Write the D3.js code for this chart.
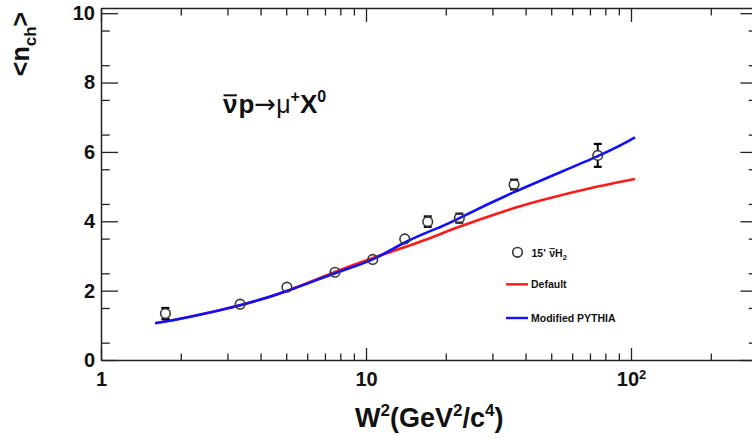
<!DOCTYPE html>
<html>
<head>
<meta charset="utf-8">
<script src="https://cdn.jsdelivr.net/npm/d3@7"></script>
<style>
  html, body { margin: 0; padding: 0; background: #fff; }
  svg { display: block; }
  text { font-family: "Liberation Sans", Arial, Helvetica, sans-serif; fill: #111; }
</style>
</head>
<body>
<svg id="chart" width="752" height="439"></svg>
<script>
// ---- data ----
const dataW2   = [1.75, 3.35, 5.03, 7.64, 10.6, 14.0, 17.1, 22.5, 36.2, 74.9];
const dataNch  = [1.34, 1.61, 2.10, 2.53, 2.90, 3.49, 3.99, 4.09, 5.06, 5.90];
const dataErr  = [0.16, 0, 0, 0, 0, 0, 0.15, 0.13, 0.14, 0.33];

const defaultW2  = [1.6, 2.17, 3.35, 5.03, 7.64, 10.5, 16.0, 22.5, 36.2, 50.0, 74.9, 103.5];
const defaultNch = [1.06, 1.25, 1.58, 1.99, 2.54, 2.93, 3.41, 3.84, 4.38, 4.68, 5.00, 5.22];

const modW2  = [1.6, 2.17, 3.35, 5.03, 7.64, 10.65, 14.2, 19.0, 22.5, 36.2, 74.9, 103.5];
const modNch = [1.06, 1.25, 1.58, 1.99, 2.50, 2.91, 3.41, 3.83, 4.09, 4.84, 5.88, 6.42];

const xMajorTicks = [1, 10, 100];
const yMajorTicks = [0, 2, 4, 6, 8, 10];

const legendLabels = ["15'", "Default", "Modified PYTHIA"];

// ---- layout ----
const svg = d3.select("#chart");
const xLeft = 101, decadePx = 265;
const xMax = 300;
const x = d3.scaleLog().domain([1, xMax]).range([xLeft, xLeft + decadePx * Math.log10(xMax)]);
const y = d3.scaleLinear().domain([0, 10.15]).range([360, 8]);
const [x0, x1] = x.range();
const [y0, y1] = y.range();

const xMinorTicks = [];
[1, 10, 100].forEach(d => { for (let m = 2; m <= 9; m++) { const v = d * m; if (v <= xMax) xMinorTicks.push(v); } });
const yMinorTicks = d3.range(0.5, 10.01, 1).filter(v => v <= 10.15);

const AX = "#222";
function styleAxis(g, w) {
  g.selectAll("path.domain").attr("stroke", AX).attr("stroke-width", w || 1.5);
  g.selectAll(".tick line").attr("stroke", AX).attr("stroke-width", 1.3);
}

// bottom axis (major with labels)
const gb = svg.append("g").attr("transform", `translate(0,${y0})`)
  .call(d3.axisBottom(x).tickValues(xMajorTicks).tickSize(-12).tickSizeOuter(0).tickPadding(12)
    .tickFormat(d => d === 100 ? "10" : String(d)));
styleAxis(gb);
gb.selectAll(".tick text").attr("font-size", 20).attr("font-weight", "bold")
  .style("font-family", '"Liberation Sans", Arial, sans-serif').attr("fill", "#111");
gb.selectAll(".tick").filter(d => d === 100).select("text")
  .append("tspan").attr("dy", "-0.55em").attr("font-size", 13).text("2");
svg.append("g").attr("transform", `translate(0,${y0})`)
  .call(d3.axisBottom(x).tickValues(xMinorTicks).tickSize(-6.5).tickSizeOuter(0).tickFormat(""))
  .call(g => { styleAxis(g); g.select("path.domain").remove(); });

// top axis
const gt = svg.append("g").attr("transform", `translate(0,${y1})`)
  .call(d3.axisTop(x).tickValues(xMajorTicks).tickSize(-14).tickSizeOuter(0).tickFormat(""));
styleAxis(gt);
svg.append("g").attr("transform", `translate(0,${y1})`)
  .call(d3.axisTop(x).tickValues(xMinorTicks).tickSize(-7.5).tickSizeOuter(0).tickFormat(""))
  .call(g => { styleAxis(g); g.select("path.domain").remove(); });

// left axis
const gl = svg.append("g").attr("transform", `translate(${x0},0)`)
  .call(d3.axisLeft(y).tickValues(yMajorTicks).tickSize(-17).tickSizeOuter(0).tickPadding(6).tickFormat(d3.format("d")));
styleAxis(gl);
gl.selectAll(".tick text").attr("font-size", 20).attr("font-weight", "bold")
  .style("font-family", '"Liberation Sans", Arial, sans-serif').attr("fill", "#111");
svg.append("g").attr("transform", `translate(${x0},0)`)
  .call(d3.axisLeft(y).tickValues(yMinorTicks).tickSize(-8.7).tickSizeOuter(0).tickFormat(""))
  .call(g => { styleAxis(g); g.select("path.domain").remove(); });

// right axis
const gr = svg.append("g").attr("transform", `translate(${x1},0)`)
  .call(d3.axisRight(y).tickValues(yMajorTicks).tickSize(-17).tickSizeOuter(0).tickFormat(""));
styleAxis(gr);
svg.append("g").attr("transform", `translate(${x1},0)`)
  .call(d3.axisRight(y).tickValues(yMinorTicks).tickSize(-8.7).tickSizeOuter(0).tickFormat(""))
  .call(g => { styleAxis(g); g.select("path.domain").remove(); });

// ---- curves ----
const line = d3.line().x(d => x(d[0])).y(d => y(d[1])).curve(d3.curveNatural);
svg.append("path").datum(defaultW2.map((w, i) => [w, defaultNch[i]]))
  .attr("d", line).attr("fill", "none").attr("stroke", "#ff1a1a").attr("stroke-width", 2.6);
svg.append("path").datum(modW2.map((w, i) => [w, modNch[i]]))
  .attr("d", line).attr("fill", "none").attr("stroke", "#1010ff").attr("stroke-width", 2.6);

// ---- data points ----
const pts = dataW2.map((w, i) => ({ w, v: dataNch[i], e: dataErr[i] }));
const R = 4.8;
const gp = svg.append("g");
pts.forEach(p => {
  const cx = x(p.w), cy = y(p.v);
  if (p.e > 0) {
    const ytop = y(p.v + p.e), ybot = y(p.v - p.e);
    if (ytop < cy - R) gp.append("line").attr("x1", cx).attr("x2", cx).attr("y1", ytop).attr("y2", cy - R).attr("stroke", "#000").attr("stroke-width", 2);
    if (ybot > cy + R) gp.append("line").attr("x1", cx).attr("x2", cx).attr("y1", cy + R).attr("y2", ybot).attr("stroke", "#000").attr("stroke-width", 2);
    [ytop, ybot].forEach(yy => gp.append("line").attr("x1", cx - 4).attr("x2", cx + 4).attr("y1", yy).attr("y2", yy).attr("stroke", "#000").attr("stroke-width", 2.2));
  }
  gp.append("circle").attr("cx", cx).attr("cy", cy).attr("r", R)
    .attr("fill", "none").attr("stroke", "#3a3a3a").attr("stroke-width", 1.6);
});

// ---- rich text helper ----
function rich(g, x0, yb, parts) {
  let cx = x0;
  parts.forEach(p => {
    const t = g.append("text").attr("x", cx).attr("y", yb + (p.dy || 0))
      .attr("font-size", p.size).attr("font-weight", p.weight || "bold").text(p.t);
    if (p.family) t.style("font-family", p.family);
    const w = t.node().getComputedTextLength();
    if (p.overline) {
      const oy = yb - p.size * (p.olPos || 0.72);
      g.append("line").attr("x1", cx + w * 0.04).attr("x2", cx + w * 0.96)
        .attr("y1", oy).attr("y2", oy)
        .attr("stroke", "#111").attr("stroke-width", Math.max(1, p.size / 13));
    }
    cx += w + (p.gap || 0);
  });
  return cx;
}

// axis titles
const xt = svg.append("text").attr("x", (x0 + x1) / 2).attr("y", 427)
  .attr("text-anchor", "middle").attr("font-size", 27).attr("font-weight", "bold");
const SUP = 11;
xt.append("tspan").text("W");
xt.append("tspan").attr("dy", -SUP).attr("font-size", 17).text("2");
xt.append("tspan").attr("dy", SUP).text("(GeV");
xt.append("tspan").attr("dy", -SUP).attr("font-size", 17).text("2");
xt.append("tspan").attr("dy", SUP).text("/c");
xt.append("tspan").attr("dy", -SUP).attr("font-size", 17).text("4");
xt.append("tspan").attr("dy", SUP).text(")");

const yt = svg.append("text").attr("transform", "translate(29,44) rotate(-90)")
  .attr("text-anchor", "middle").attr("font-size", 25).attr("font-weight", "bold");
yt.append("tspan").text("<n");
yt.append("tspan").attr("dy", 7).attr("font-size", 17).text("ch");
yt.append("tspan").attr("dy", -7).text(">");

// reaction label
const gr2 = svg.append("g");
rich(gr2, 223, 113, [
  { t: "ν", size: 26, weight: "bold", overline: true, olPos: 0.68, gap: 1 },
  { t: "p", size: 26, weight: "bold" },
  { t: "→", size: 26, weight: "normal", family: '"DejaVu Sans", sans-serif' },
  { t: "μ", size: 25, weight: "normal" },
  { t: "+", size: 16, weight: "bold", dy: -11 },
  { t: "X", size: 26, weight: "bold" },
  { t: "0", size: 16, weight: "bold", dy: -11 }
]);

// ---- legend ----
const lg = svg.append("g");
lg.append("circle").attr("cx", 517.5).attr("cy", 252.3).attr("r", R)
  .attr("fill", "none").attr("stroke", "#3a3a3a").attr("stroke-width", 1.6);
rich(lg, 531.5, 256.5, [
  { t: legendLabels[0], size: 10.5, weight: "bold", gap: 3.5 },
  { t: "ν", size: 10.5, weight: "bold", overline: true, olPos: 0.75 },
  { t: "H", size: 10.5, weight: "bold" },
  { t: "2", size: 7.5, weight: "bold", dy: 3 }
]);
lg.append("line").attr("x1", 506).attr("x2", 528).attr("y1", 284.3).attr("y2", 284.3)
  .attr("stroke", "#ff1a1a").attr("stroke-width", 2.4);
lg.append("text").attr("x", 531).attr("y", 288.3).attr("font-size", 10.5).attr("font-weight", "bold").text(legendLabels[1]);
lg.append("line").attr("x1", 506).attr("x2", 528).attr("y1", 318).attr("y2", 318)
  .attr("stroke", "#1010ff").attr("stroke-width", 2.4);
lg.append("text").attr("x", 531).attr("y", 322).attr("font-size", 10.5).attr("font-weight", "bold").text(legendLabels[2]);
</script>
</body>
</html>
